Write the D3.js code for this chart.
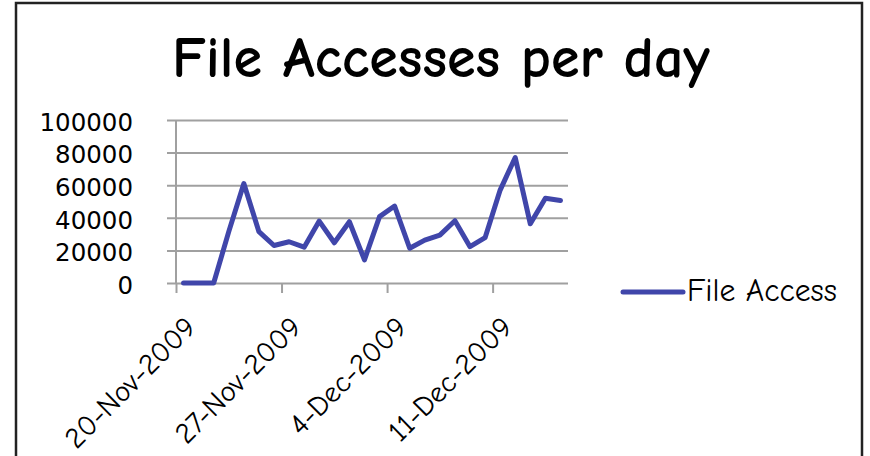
<!DOCTYPE html>
<html>
<head>
<meta charset="utf-8">
<script src="https://cdn.jsdelivr.net/npm/d3@7"></script>
<style>
  html, body { margin: 0; padding: 0; background: #fff; }
  svg { display: block; }
</style>
</head>
<body>
<div id="chart"></div>
<script>
// daily file access counts
var days = [
  "2009-11-20", "2009-11-21", "2009-11-22", "2009-11-23", "2009-11-24",
  "2009-11-25", "2009-11-26", "2009-11-27", "2009-11-28", "2009-11-29",
  "2009-11-30", "2009-12-01", "2009-12-02", "2009-12-03", "2009-12-04",
  "2009-12-05", "2009-12-06", "2009-12-07", "2009-12-08", "2009-12-09",
  "2009-12-10", "2009-12-11", "2009-12-12", "2009-12-13", "2009-12-14",
  "2009-12-15"
];
var accesses = [
  0, 0, 0, 31500, 61000,
  31500, 23000, 25300, 22000, 38000,
  24700, 37600, 14200, 40700, 47200,
  21300, 26300, 29400, 38200, 22300,
  27800, 57000, 77000, 36300, 52000,
  50600
];
var yTicks = [0, 20000, 40000, 60000, 80000, 100000];
var xTickDays = ["2009-11-20", "2009-11-27", "2009-12-04", "2009-12-11"];
var xTickLabels = ["20-Nov-2009", "27-Nov-2009", "4-Dec-2009", "11-Dec-2009"];
var seriesName = "File Access";
var title = "File Accesses per day";

var W = 870, H = 456;
var comic = "'Comic Sans MS', 'Comic Neue', Lato, 'DejaVu Sans', sans-serif";
var lineColor = "#4046aa";

var parse = d3.timeParse("%Y-%m-%d");
var data = days.map(function(d, i) { return { date: parse(d), value: accesses[i] }; });

var svg = d3.select("#chart").append("svg")
  .attr("width", W)
  .attr("height", H);

// outer frame
svg.append("path")
  .attr("d", "M16,456 L16,3 L862,3 L862,456")
  .attr("fill", "none")
  .attr("stroke", "#222")
  .attr("stroke-width", 2.5);

// plot area
var plotLeft = 176, plotRight = 568, plotTop = 120, plotBottom = 283;

var x = d3.scaleTime()
  .domain([parse("2009-11-20"), parse("2009-12-16")])
  .range([plotLeft, plotRight]);
var y = d3.scaleLinear()
  .domain([0, 100000])
  .range([plotBottom, plotTop]);

// shrink/grow a text to a given width
function fitWidth(sel, w) {
  sel.each(function() {
    var el = d3.select(this);
    var fs = parseFloat(el.attr("font-size"));
    var cur = this.getComputedTextLength();
    if (cur > 0) el.attr("font-size", (fs * w / cur).toFixed(2));
  });
}

// title
svg.append("text")
  .attr("x", 441)
  .attr("y", 77)
  .attr("text-anchor", "middle")
  .attr("font-family", comic)
  .attr("font-weight", "bold")
  .attr("font-size", 50)
  .attr("fill", "#000")
  .text(title)
  .call(fitWidth, 538);

// y axis + horizontal gridlines
var yAxis = svg.append("g")
  .attr("transform", "translate(" + plotLeft + ",0)")
  .call(d3.axisLeft(y).tickValues(yTicks).tickSize(9).tickPadding(34)
    .tickFormat(d3.format("d")));
yAxis.select(".domain").remove();
yAxis.selectAll(".tick line")
  .attr("x1", -9)
  .attr("x2", plotRight - plotLeft)
  .attr("stroke", "#a0a0a0")
  .attr("stroke-width", 2);
yAxis.selectAll(".tick text")
  .attr("font-family", "'DejaVu Sans', Verdana, sans-serif")
  .attr("font-size", 24.5)
  .attr("fill", "#000")
  .attr("dy", "0.42em");

// vertical axis line
svg.append("line")
  .attr("x1", plotLeft).attr("x2", plotLeft)
  .attr("y1", plotTop).attr("y2", plotBottom)
  .attr("stroke", "#a0a0a0")
  .attr("stroke-width", 2);

// x axis
var xAxis = svg.append("g")
  .attr("transform", "translate(0," + plotBottom + ")")
  .call(d3.axisBottom(x).tickValues(xTickDays.map(parse)).tickSize(10).tickSizeOuter(0)
    .tickFormat(function(d, i) { return xTickLabels[i]; }));
xAxis.select(".domain").remove();
xAxis.selectAll(".tick line")
  .attr("stroke", "#a0a0a0")
  .attr("stroke-width", 2);
var xLabels = xAxis.selectAll(".tick text")
  .attr("font-family", comic)
  .attr("font-size", 26)
  .attr("fill", "#000")
  .attr("text-anchor", "end")
  .attr("y", 0).attr("dy", 0)
  .attr("transform", "translate(21,46) rotate(-45)");
// same size for every label, set from the first one
var firstLabel = xLabels.node();
var xfs = 26 * 171 / firstLabel.getComputedTextLength();
xLabels.attr("font-size", xfs.toFixed(2));

// the series, one point in the middle of each day
var half = 12 * 3600 * 1000;
var line = d3.line()
  .x(function(d) { return x(new Date(d.date.getTime() + half)); })
  .y(function(d) { return y(d.value); });

svg.append("path")
  .datum(data)
  .attr("d", line)
  .attr("fill", "none")
  .attr("stroke", lineColor)
  .attr("stroke-width", 5)
  .attr("stroke-linejoin", "round")
  .attr("stroke-linecap", "round");

// legend
var lg = svg.append("g").attr("transform", "translate(623,292)");
lg.append("line")
  .attr("x1", 0).attr("x2", 60)
  .attr("stroke", lineColor)
  .attr("stroke-width", 5)
  .attr("stroke-linecap", "round");
lg.append("text")
  .attr("x", 64)
  .attr("y", 9)
  .attr("font-family", comic)
  .attr("font-size", 26)
  .attr("fill", "#000")
  .text(seriesName)
  .call(fitWidth, 150);
</script>
</body>
</html>
